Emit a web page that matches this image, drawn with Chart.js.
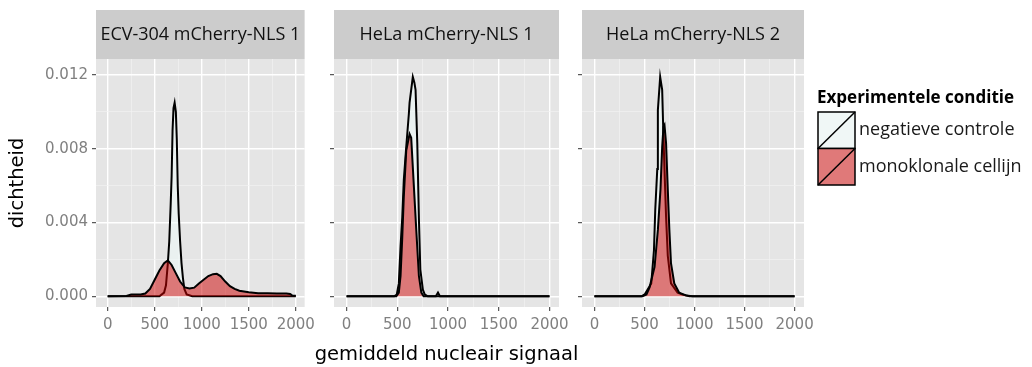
<!DOCTYPE html>
<html>
<head>
<meta charset="utf-8">
<script src="https://cdn.jsdelivr.net/npm/chart.js@4/dist/chart.umd.min.js"></script>
<style>
  html, body { margin: 0; padding: 0; background: #ffffff; }
  #wrap { position: relative; width: 1032px; height: 367px; overflow: hidden; }
  .facet { position: absolute; top: 0; height: 367px; }
</style>
</head>
<body>
<div id="wrap">
  <div class="facet" style="left:0px;width:320px"><canvas id="c1"></canvas></div>
  <div class="facet" style="left:300px;width:280px"><canvas id="c2"></canvas></div>
  <div class="facet" style="left:562px;width:470px"><canvas id="c3"></canvas></div>
</div>
<script>
// ---- labels ----
const facetTitles = ['ECV-304 mCherry-NLS 1', 'HeLa mCherry-NLS 1', 'HeLa mCherry-NLS 2'];
const seriesNames = ['negatieve controle', 'monoklonale cellijn'];
const legendTitle = 'Experimentele conditie';
const xTitle = 'gemiddeld nucleair signaal';
const yTitle = 'dichtheid';

// ---- axis ticks ----
const xTickValues = [0, 500, 1000, 1500, 2000];
const xTickLabels = ['0', '500', '1000', '1500', '2000'];
const yTickValues = [0, 0.004, 0.008, 0.012];
const yTickLabels = ['0.000', '0.004', '0.008', '0.012'];

// ---- density curves (signal, density) ----
// ECV-304 mCherry-NLS 1
const ecvNegX = [0, 550, 600, 620, 640, 655, 670, 680, 690, 700, 712, 725, 735, 745, 755, 770, 785, 800, 815, 840, 900, 2000];
const ecvNegY = [0, 0, 0.0002, 0.0006, 0.0018, 0.0030, 0.0050, 0.0065, 0.0090, 0.0102, 0.0105, 0.0100, 0.0085, 0.0060, 0.0045, 0.0030, 0.0018, 0.0010, 0.0004, 0.0001, 0, 0];
const ecvMonoX = [0, 200, 250, 350, 400, 450, 500, 550, 600, 640, 680, 720, 770, 820, 870, 920, 970, 1020, 1070, 1120, 1160, 1200, 1250, 1300, 1350, 1400, 1500, 1600, 1700, 1800, 1900, 1940, 1960, 2000];
const ecvMonoY = [0, 0.00002, 0.0001, 0.0001, 0.00015, 0.0004, 0.0009, 0.0014, 0.0018, 0.00195, 0.0017, 0.0013, 0.0008, 0.00048, 0.00042, 0.00047, 0.0007, 0.0009, 0.0011, 0.0012, 0.00122, 0.0011, 0.0008, 0.00055, 0.0004, 0.0003, 0.00022, 0.00017, 0.00016, 0.00015, 0.00015, 0.00013, 0.00005, 0.00003];

// HeLa mCherry-NLS 1
const hela1NegX = [0, 470, 495, 515, 532, 549, 564, 588, 614, 621, 653, 668, 680, 697, 713, 727, 752, 770, 800, 880, 901, 920, 2000];
const hela1NegY = [0, 0, 0.0001, 0.0007, 0.0027, 0.0043, 0.0063, 0.0081, 0.0099, 0.0105, 0.0119, 0.0116, 0.0112, 0.0083, 0.0042, 0.00145, 0.00036, 0.0001, 0, 0, 0.0002, 0, 0];
const hela1MonoX = [0, 490, 515, 532, 549, 564, 588, 621, 637, 660, 687, 713, 737, 760, 2000];
const hela1MonoY = [0, 0, 0.0002, 0.0011, 0.0032, 0.0054, 0.0079, 0.0088, 0.0086, 0.0063, 0.0036, 0.0011, 0.0002, 0, 0];

// HeLa mCherry-NLS 2
const hela2NegX = [0, 470, 502, 568, 595, 608, 628, 634, 657, 677, 687, 700, 716, 733, 765, 831, 880, 950, 2000];
const hela2NegY = [0, 0, 0.0001, 0.0007, 0.0025, 0.0047, 0.0069, 0.0101, 0.0119, 0.0112, 0.0092, 0.0069, 0.0043, 0.0022, 0.0007, 0.0002, 0.0001, 0, 0];
const hela2MonoX = [0, 480, 520, 552, 601, 634, 660, 677, 690, 700, 716, 733, 749, 765, 798, 847, 913, 980, 2000];
const hela2MonoY = [0, 0, 0.0001, 0.0005, 0.0016, 0.0036, 0.0058, 0.0081, 0.0092, 0.0093, 0.0083, 0.0058, 0.0036, 0.0018, 0.0007, 0.0002, 0.00005, 0, 0];

// ---- styling ----
const negFill = 'rgba(238, 252, 250, 0.55)';
const monoFill = 'rgba(205, 0, 0, 0.5)';
const panelBg = '#E5E5E5';
const stripBg = '#CCCCCC';
const tickText = '#808080';
const tickFont = { family: 'DejaVu Sans', size: 15 };
const titleFont = { family: 'DejaVu Sans', size: 19.5 };

const xMin = -124, xMax = 2094;
const yMin = -0.00058, yMax = 0.01287;

// minor grid positions sit halfway between major ticks
function withMinors(major) {
  const all = major.slice();
  for (let i = 0; i < major.length - 1; i++) all.push((major[i] + major[i + 1]) / 2);
  return all.sort((a, b) => a - b);
}
const xAll = withMinors(xTickValues);
const yAll = withMinors(yTickValues);
const isMajor = (list, v) => list.some(m => Math.abs(m - v) < 1e-12);
const labelFor = (vals, labels, v) => {
  const i = vals.findIndex(m => Math.abs(m - v) < 1e-12);
  return i >= 0 ? labels[i] : '';
};
const pts = (xs, ys) => xs.map((x, i) => ({ x: x, y: ys[i] }));

// panel background, strip with facet label, and the shared x-axis title
const facetPlugin = {
  id: 'facet',
  beforeDraw(chart, args, opts) {
    const ctx = chart.ctx, a = chart.chartArea;
    ctx.save();
    ctx.fillStyle = panelBg;
    ctx.fillRect(a.left, a.top, a.right - a.left, a.bottom - a.top);
    ctx.fillStyle = stripBg;
    ctx.fillRect(a.left, 10, a.right - a.left, a.top - 10);
    ctx.fillStyle = '#111111';
    ctx.font = '18px "Open Sans"';
    ctx.textAlign = 'center';
    ctx.textBaseline = 'middle';
    ctx.fillText(opts.text, (a.left + a.right) / 2, (10 + a.top) / 2);
    ctx.restore();
  },
  afterDraw(chart, args, opts) {
    if (!opts.xTitle) return;
    const ctx = chart.ctx, a = chart.chartArea;
    ctx.save();
    ctx.fillStyle = '#000';
    ctx.font = titleFont.size + 'px "' + titleFont.family + '"';
    ctx.textAlign = 'center';
    ctx.textBaseline = 'middle';
    ctx.fillText(xTitle, (a.left + a.right) / 2, 355);
    ctx.restore();
  }
};

// legend for the fill colours, drawn to the right of the last panel
const fillLegend = {
  id: 'fillLegend',
  afterDraw(chart, args, o) {
    if (!o.show) return;
    const ctx = chart.ctx;
    ctx.save();
    ctx.textAlign = 'left';
    ctx.textBaseline = 'middle';
    ctx.fillStyle = '#000';
    ctx.font = 'bold 17px "Open Sans"';
    ctx.fillText(legendTitle, o.x, o.y);
    const fills = [negFill, monoFill];
    ctx.font = '18px "Open Sans"';
    for (let i = 0; i < seriesNames.length; i++) {
      const top = o.keyTop + i * o.keyH;
      ctx.fillStyle = '#F2F2F2';
      ctx.fillRect(o.x + 1, top, o.keyW, o.keyH);
      ctx.fillStyle = fills[i];
      ctx.fillRect(o.x + 1, top, o.keyW, o.keyH);
      ctx.strokeStyle = '#000';
      ctx.lineWidth = 1.5;
      ctx.strokeRect(o.x + 1, top, o.keyW, o.keyH);
      ctx.beginPath();
      ctx.moveTo(o.x + 1, top + o.keyH);
      ctx.lineTo(o.x + 1 + o.keyW, top);
      ctx.stroke();
      ctx.fillStyle = '#1A1A1A';
      ctx.fillText(seriesNames[i], o.x + o.keyW + 5, top + o.keyH / 2);
    }
    ctx.restore();
  }
};

function makeChart(id, idx, negX, negY, monoX, monoY, cfg) {
  return new Chart(document.getElementById(id), {
    type: 'line',
    data: {
      datasets: [
        { label: seriesNames[0], data: pts(negX, negY), order: 1,
          borderColor: '#000', borderWidth: 2, backgroundColor: negFill,
          fill: 'origin', pointRadius: 0, tension: 0 },
        { label: seriesNames[1], data: pts(monoX, monoY), order: 0,
          borderColor: '#000', borderWidth: 2, backgroundColor: monoFill,
          fill: 'origin', pointRadius: 0, tension: 0 }
      ]
    },
    plugins: [facetPlugin, fillLegend],
    options: {
      responsive: true,
      maintainAspectRatio: false,
      animation: false,
      events: [],
      layout: { padding: { top: 59, right: cfg.padRight, left: 0, bottom: 0 } },
      plugins: {
        legend: { display: false },
        tooltip: { enabled: false },
        title: { display: false },
        facet: { text: facetTitles[idx], xTitle: !!cfg.xTitle },
        fillLegend: cfg.legend || { show: false }
      },
      scales: {
        x: {
          type: 'linear', min: xMin, max: xMax,
          afterBuildTicks: s => { s.ticks = xAll.map(v => ({ value: v })); },
          afterFit: s => { s.height = 60; },
          border: { display: false },
          grid: {
            color: c => isMajor(xTickValues, c.tick.value) ? '#FFFFFF' : '#F2F2F2',
            lineWidth: c => isMajor(xTickValues, c.tick.value) ? 1.4 : 0.7,
            tickColor: c => isMajor(xTickValues, c.tick.value) ? '#333333' : 'rgba(0,0,0,0)',
            tickWidth: 1, tickLength: 4, drawTicks: true
          },
          ticks: {
            autoSkip: false, maxRotation: 0, padding: 5, color: tickText,
            font: tickFont,
            callback: v => labelFor(xTickValues, xTickLabels, v)
          }
        },
        y: {
          type: 'linear', min: yMin, max: yMax,
          afterBuildTicks: s => { s.ticks = yAll.map(v => ({ value: v })); },
          afterFit: s => { s.width = cfg.yWidth; },
          border: { display: false },
          grid: {
            color: c => isMajor(yTickValues, c.tick.value) ? '#FFFFFF' : '#F2F2F2',
            lineWidth: c => isMajor(yTickValues, c.tick.value) ? 1.4 : 0.7,
            tickColor: c => isMajor(yTickValues, c.tick.value) ? '#333333' : 'rgba(0,0,0,0)',
            tickWidth: 1, tickLength: 4, drawTicks: true
          },
          ticks: {
            display: !!cfg.yLabels, autoSkip: false, padding: 4, color: tickText,
            font: tickFont,
            callback: v => labelFor(yTickValues, yTickLabels, v)
          },
          title: {
            display: !!cfg.yTitle, text: yTitle, color: '#000',
            font: titleFont, padding: { top: 6, bottom: 0 }
          }
        }
      }
    }
  });
}

makeChart('c1', 0, ecvNegX, ecvNegY, ecvMonoX, ecvMonoY,
  { padRight: 3, yWidth: 96, yLabels: true, yTitle: true });
makeChart('c2', 1, hela1NegX, hela1NegY, hela1MonoX, hela1MonoY,
  { padRight: 21, yWidth: 34, xTitle: true });
makeChart('c3', 2, hela2NegX, hela2NegY, hela2MonoX, hela2MonoY,
  { padRight: 228, yWidth: 20,
    legend: { show: true, x: 255, y: 98, keyTop: 112, keyW: 37, keyH: 36.5 } });
</script>
</body>
</html>
